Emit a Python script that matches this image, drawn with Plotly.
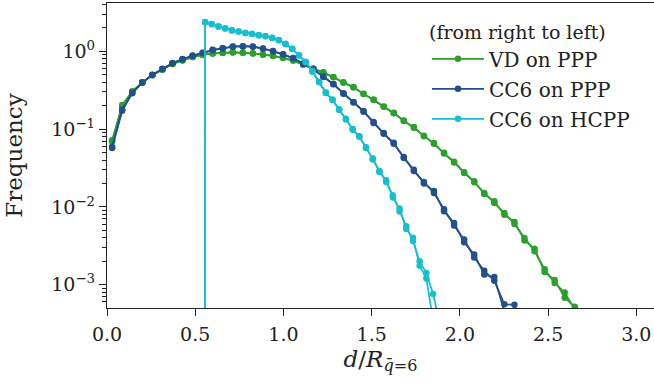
import plotly.graph_objects as go

# bin centres (d / R_qbar=6) for the Poisson point process histograms
ppp_bins = [0.029, 0.086, 0.143, 0.200, 0.257, 0.314, 0.371, 0.428, 0.485, 0.542,
            0.599, 0.656, 0.713, 0.770, 0.827, 0.884, 0.941, 0.998, 1.055, 1.112,
            1.169, 1.226, 1.283, 1.340, 1.397, 1.454, 1.511, 1.568, 1.625, 1.682,
            1.739, 1.796, 1.853, 1.910, 1.967, 2.024, 2.081, 2.138, 2.195, 2.252,
            2.309, 2.366, 2.423, 2.480, 2.537, 2.594, 2.651, 2.708]
# bin centres for the hard-core point process (first bin is empty)
hcpp_bins = [0.518, 0.556, 0.594, 0.632, 0.670, 0.708, 0.746, 0.784, 0.822, 0.860,
             0.898, 0.936, 0.974, 1.012, 1.050, 1.088, 1.126, 1.164, 1.202, 1.240,
             1.278, 1.316, 1.354, 1.392, 1.430, 1.468, 1.506, 1.544, 1.582, 1.620,
             1.658, 1.696, 1.734, 1.772, 1.810, 1.848, 1.886]

vd_ppp_a = [0.069, 0.204, 0.302, 0.398, 0.490, 0.582, 0.684, 0.767, 0.841, 0.902,
            0.933, 0.955, 0.966, 0.959, 0.938, 0.908, 0.871, 0.822, 0.759, 0.676,
            0.596, 0.537, 0.462, 0.398, 0.343, 0.285, 0.237, 0.195, 0.160, 0.129,
            0.104, 0.0822, 0.0646, 0.0495, 0.0372, 0.0279, 0.0207, 0.0151, 0.0112, 0.00832,
            0.00603, 0.00398, 0.00269, 0.00158, 0.00105, 0.00079, 0.00048, 0.00025]
vd_ppp_b = [0.072, 0.198, 0.305, 0.395, 0.494, 0.578, 0.688, 0.763, 0.846, 0.898,
            0.936, 0.951, 0.969, 0.955, 0.941, 0.904, 0.874, 0.818, 0.762, 0.672,
            0.599, 0.533, 0.465, 0.395, 0.346, 0.282, 0.239, 0.193, 0.162, 0.127,
            0.106, 0.0810, 0.0660, 0.0485, 0.0380, 0.0272, 0.0213, 0.0146, 0.0118, 0.00790,
            0.00640, 0.00370, 0.00290, 0.00145, 0.00115, 0.00068, 0.00052, 0.00022]

cc6_ppp_a = [0.059, 0.178, 0.288, 0.398, 0.495, 0.596, 0.700, 0.794, 0.875, 0.955,
             1.035, 1.096, 1.143, 1.159, 1.143, 1.084, 1.000, 0.912, 0.813, 0.695,
             0.582, 0.473, 0.376, 0.288, 0.219, 0.170, 0.120, 0.0891, 0.0646, 0.0437,
             0.0288, 0.0209, 0.0151, 0.00933, 0.00575, 0.00380, 0.00224, 0.00151, 0.00112, 0.00056,
             0.00055, 0.00020]
cc6_ppp_b = [0.057, 0.172, 0.292, 0.394, 0.500, 0.590, 0.706, 0.788, 0.882, 0.948,
             1.042, 1.089, 1.150, 1.152, 1.150, 1.078, 1.007, 0.905, 0.820, 0.690,
             0.588, 0.468, 0.380, 0.285, 0.222, 0.167, 0.123, 0.0870, 0.0665, 0.0425,
             0.0300, 0.0200, 0.0160, 0.00880, 0.00620, 0.00350, 0.00245, 0.00135, 0.00125, 0.00045,
             0.00030, 0.00015]

# 1e-100 stands in for the empty bin below the hard-core distance
cc6_hcpp_a = [1e-100, 2.38, 2.22, 2.09, 1.96, 1.86, 1.79, 1.72, 1.67, 1.61,
              1.56, 1.49, 1.38, 1.245, 1.07, 0.891, 0.724, 0.556, 0.398, 0.295,
              0.237, 0.180, 0.133, 0.100, 0.0794, 0.0582, 0.0407, 0.0288, 0.0209, 0.0141,
              0.00871, 0.00562, 0.00363, 0.00200, 0.00141, 0.00076, 0.00032]
cc6_hcpp_b = [1e-100, 2.36, 2.24, 2.07, 1.98, 1.85, 1.80, 1.71, 1.68, 1.60,
              1.57, 1.48, 1.39, 1.23, 1.08, 0.880, 0.735, 0.545, 0.405, 0.290,
              0.240, 0.176, 0.136, 0.098, 0.0810, 0.0570, 0.0420, 0.0280, 0.0220, 0.0132,
              0.00950, 0.00520, 0.00400, 0.00175, 0.00120, 0.00035, 0.00015]

series_names = ["VD on PPP", "CC6 on PPP", "CC6 on HCPP"]
series_colors = ["#2ca02c", "#22508c", "#17becf"]
series_x = [ppp_bins, ppp_bins, hcpp_bins]
series_y = [[vd_ppp_a, vd_ppp_b], [cc6_ppp_a, cc6_ppp_b], [cc6_hcpp_a, cc6_hcpp_b]]

x_ticks = [0.0, 0.5, 1.0, 1.5, 2.0, 2.5, 3.0]
x_ticktext = ["0.0", "0.5", "1.0", "1.5", "2.0", "2.5", "3.0"]
y_ticks = [1e-3, 1e-2, 1e-1, 1e0]
y_ticktext = ["10<sup>\u22123</sup>", "10<sup>\u22122</sup>", "10<sup>\u22121</sup>", "10<sup>0</sup>"]
y_minor = [m * 10.0 ** e for e in range(-4, 1) for m in range(2, 10)]

FONT = "DejaVu Serif"
AX = "#222222"

fig = go.Figure()
for name, color, xs, ys_list in zip(series_names, series_colors, series_x, series_y):
    for k, ys in enumerate(ys_list):
        fig.add_trace(go.Scatter(
            x=xs[:len(ys)], y=ys, mode="lines+markers", name=name,
            legendgroup=name, showlegend=(k == 0),
            line=dict(color=color, width=1.75),
            marker=dict(color=color, size=6.5),
        ))

fig.update_layout(
    width=654, height=385,
    margin=dict(l=107, r=0, t=3, b=77),
    paper_bgcolor="white", plot_bgcolor="white",
    font=dict(family=FONT, size=19, color="#222222"),
    showlegend=True,
    legend=dict(
        x=0.585, y=0.962, xanchor="left", yanchor="top",
        bgcolor="rgba(0,0,0,0)",
        title=dict(text="(from right to left)", font=dict(family=FONT, size=19)),
        font=dict(family=FONT, size=20),
        traceorder="grouped", tracegroupgap=1, itemwidth=52,
    ),
    xaxis=dict(
        range=[0, 3.1], tickmode="array", tickvals=x_ticks, ticktext=x_ticktext,
        ticks="outside", ticklen=7, tickwidth=1.25, tickcolor=AX, ticklabelstandoff=2,
        showline=True, linecolor=AX, linewidth=1.25, mirror=True,
        showgrid=False, zeroline=False,
        title=dict(text="<i>d</i>/<i>R</i><sub><i>q\u0304</i>=6</sub>", standoff=6),
    ),
    yaxis=dict(
        type="log", range=[-3.3, 0.62], tickmode="array", tickvals=y_ticks, ticktext=y_ticktext,
        ticks="outside", ticklen=7, tickwidth=1.25, tickcolor=AX,
        minor=dict(tickmode="array", tickvals=y_minor, ticks="outside", ticklen=4,
                   tickwidth=1, tickcolor=AX, showgrid=False),
        showline=True, linecolor=AX, linewidth=1.25, mirror=False,
        showgrid=False, zeroline=False,
        title=dict(text="Frequency", standoff=22),
    ),
)

fig.write_html("out.html")
